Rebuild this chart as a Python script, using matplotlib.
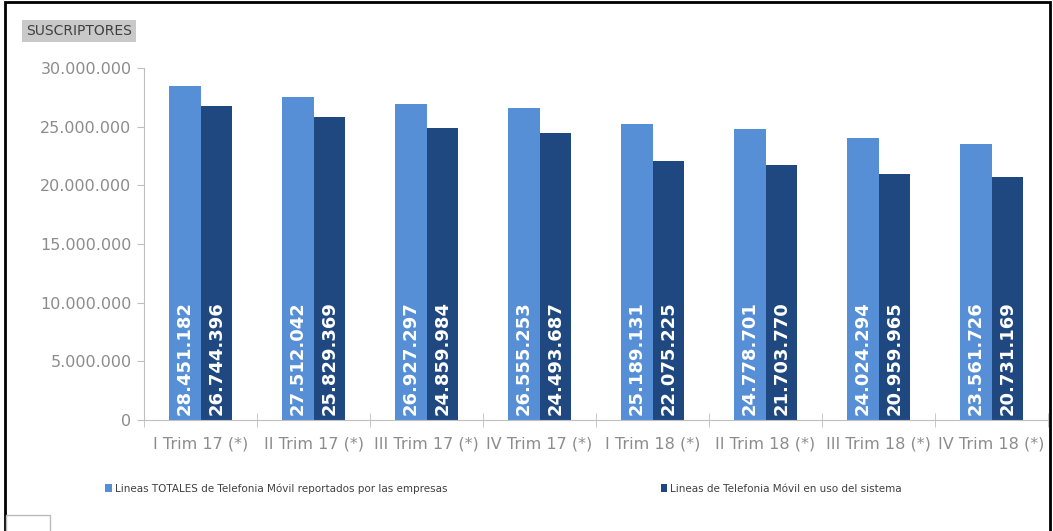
import numpy as np
import matplotlib
matplotlib.use("Agg")
import matplotlib.pyplot as plt
from matplotlib.patches import Rectangle

# data
periods = ["I Trim 17 (*)", "II Trim 17 (*)", "III Trim 17 (*)", "IV Trim 17 (*)",
           "I Trim 18 (*)", "II Trim 18 (*)", "III Trim 18 (*)", "IV Trim 18 (*)"]
lineas_totales = [28451182, 27512042, 26927297, 26555253,
                  25189131, 24778701, 24024294, 23561726]
lineas_en_uso = [26744396, 25829369, 24859984, 24493687,
                 22075225, 21703770, 20959965, 20731169]
serie_names = ["Lineas TOTALES de Telefonia Móvil reportados por las empresas",
               "Lineas de Telefonia Móvil en uso del sistema"]
y_ticks = [0, 5000000, 10000000, 15000000, 20000000, 25000000, 30000000]

light = "#578fd7"
dark = "#1f4880"
grey = "#8c8c8c"


def fmt(v):
    return f"{v:,}".replace(",", ".")


fig = plt.figure(figsize=(10.53, 5.31), dpi=100)
ax = fig.add_axes([144 / 1053, 111 / 531, 904 / 1053, 352 / 531])

x = np.arange(len(periods))
w = 0.28
b1 = ax.bar(x - w / 2, lineas_totales, w, color=light, label=serie_names[0])
b2 = ax.bar(x + w / 2, lineas_en_uso, w, color=dark, label=serie_names[1])

for bars, vals in ((b1, lineas_totales), (b2, lineas_en_uso)):
    for r, v in zip(bars, vals):
        ax.text(r.get_x() + r.get_width() / 2, 450000, fmt(v), rotation=90,
                ha="center", va="bottom", color="white", fontsize=13,
                fontweight="bold")

ax.set_xlim(-0.5, len(periods) - 0.5)
ax.set_ylim(0, 30000000)
ax.set_yticks(y_ticks)
ax.set_yticklabels([fmt(t) for t in y_ticks])
ax.set_xticks(x)
ax.set_xticklabels(periods)
ax.set_xticks(np.arange(len(periods) + 1) - 0.5, minor=True)
ax.tick_params(axis="x", which="major", length=0, pad=12, labelsize=11.5,
               labelcolor=grey)
ax.tick_params(axis="x", which="minor", length=10, direction="inout",
               color="#bfbfbf")
ax.tick_params(axis="y", length=5, color="#bfbfbf", labelsize=11.5,
               labelcolor=grey, pad=4)
for s in ("top", "right"):
    ax.spines[s].set_visible(False)
for s in ("left", "bottom"):
    ax.spines[s].set_color("#bfbfbf")

fig.text(26 / 1053, 1 - 31 / 531, "SUSCRIPTORES", fontsize=10, color="#404040",
         va="center", ha="left",
         bbox=dict(boxstyle="square,pad=0.3", fc="#c9c9c9", ec="none"))

fig.legend(loc="lower left", bbox_to_anchor=(96 / 1053, 28 / 531), ncol=2,
           frameon=False, fontsize=7.5, labelcolor="#404040",
           handlelength=0.6, handleheight=0.7, handletextpad=0.3,
           columnspacing=20.5)

# frame of the original picture
fig.add_artist(Rectangle((5 / 1053, -0.01), 1 - 8 / 1053, 1 - 2 / 531 + 0.01,
                         transform=fig.transFigure, fill=False, ec="black",
                         lw=2))
fig.add_artist(Rectangle((6 / 1053, -0.01), 44 / 1053, 16 / 531 + 0.01,
                         transform=fig.transFigure, fill=False, ec="#bbbbbb",
                         lw=1))

fig.savefig("out.png", dpi=100)
